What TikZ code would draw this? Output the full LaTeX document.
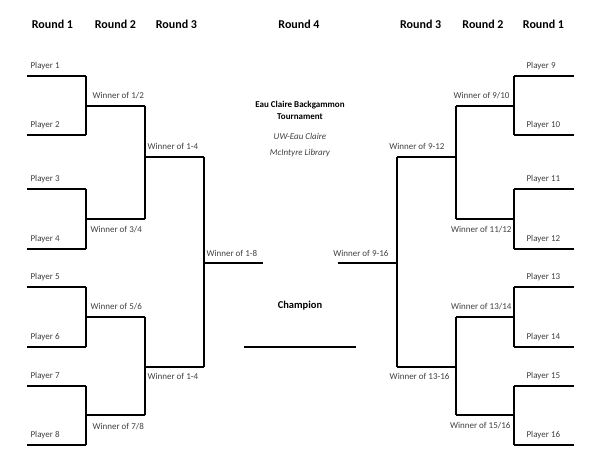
\documentclass[tikz,border=0pt]{standalone}
\usepackage{fontspec}
\setmainfont{Carlito}
\definecolor{labelgray}{RGB}{64,64,64}
\begin{document}
\begin{tikzpicture}[x=1pt,y=-1pt,line width=1.1pt,
    every node/.style={inner sep=0pt},
    hdr/.style={font=\bfseries\fontsize{12}{14}\selectfont},
    lbl/.style={font=\fontsize{9}{11}\selectfont,text=labelgray},
    ttl/.style={font=\bfseries\fontsize{9}{11}\selectfont},
    sub/.style={font=\itshape\fontsize{9}{11}\selectfont,text=labelgray}]
    \useasboundingbox (0,0) rectangle (600,463);
    % headers
    \foreach \n/\x/\r in {hl1/52.5/1,hl2/115.5/2,hl3/176.5/3,hc4/299/4,hr3/420.7/3,hr2/483/2,hr1/543.5/1}
        \node[hdr] (\n) at (\x,24) {Round \r};

    % left half
    \foreach \i/\y in {1/76,2/135,3/189,4/249,5/287,6/347,7/386,8/445} {
        \coordinate (p\i a) at (27,\y);
        \coordinate (p\i b) at (86,\y);
        \draw (p\i a) -- (p\i b);
        \node[lbl,anchor=base west] (pl\i) at ([shift={(3pt,8pt)}]p\i a) {Player \i};
    }
    \draw (p1b) -- (p2b) (p3b) -- (p4b) (p5b) -- (p6b) (p7b) -- (p8b);
    \coordinate (w12a) at (86,106);  \coordinate (w12b) at (145,106);
    \coordinate (w34a) at (86,219);  \coordinate (w34b) at (145,219);
    \coordinate (w56a) at (86,317);  \coordinate (w56b) at (145,317);
    \coordinate (w78a) at (86,415);  \coordinate (w78b) at (145,415);
    \coordinate (w14a) at (145,157); \coordinate (w14b) at (204,157);
    \coordinate (w58a) at (145,367); \coordinate (w58b) at (204,367);
    \coordinate (w18a) at (204,263); \coordinate (w18b) at (263,263);
    \draw (w12a) -- (w12b) (w34a) -- (w34b) (w56a) -- (w56b) (w78a) -- (w78b)
        (w12b) -- (w34b) (w56b) -- (w78b)
        (w14a) -- (w14b) (w58a) -- (w58b) (w14b) -- (w58b)
        (w18a) -- (w18b);
    \node[lbl,anchor=base west] (l12) at (92,98) {Winner of 1/2};
    \node[lbl,anchor=base west] (l34) at (90,232) {Winner of 3/4};
    \node[lbl,anchor=base west] (l56) at (90,309) {Winner of 5/6};
    \node[lbl,anchor=base west] (l78) at (92,429) {Winner of 7/8};
    \node[lbl,anchor=base west] (l14) at (147,149) {Winner of 1-4};
    \node[lbl,anchor=base west] (l58) at (147,379) {Winner of 1-4};
    \node[lbl,anchor=base west] (l18) at (206,256) {Winner of 1-8};

    % right half
    \foreach \i/\y in {9/76,10/135,11/189,12/249,13/287,14/347,15/386,16/445} {
        \coordinate (p\i a) at (514,\y);
        \coordinate (p\i b) at (574,\y);
        \draw (p\i a) -- (p\i b);
        \node[lbl,anchor=base west] (pl\i) at ([shift={(12pt,8pt)}]p\i a) {Player \i};
    }
    \draw (p9a) -- (p10a) (p11a) -- (p12a) (p13a) -- (p14a) (p15a) -- (p16a);
    \coordinate (w910a) at (456,106);  \coordinate (w910b) at (514,106);
    \coordinate (w1112a) at (456,219); \coordinate (w1112b) at (514,219);
    \coordinate (w1314a) at (456,317); \coordinate (w1314b) at (514,317);
    \coordinate (w1516a) at (456,415); \coordinate (w1516b) at (514,415);
    \coordinate (w912a) at (397,157);  \coordinate (w912b) at (456,157);
    \coordinate (w1316a) at (397,367); \coordinate (w1316b) at (456,367);
    \coordinate (w916a) at (338,263);  \coordinate (w916b) at (397,263);
    \draw (w910a) -- (w910b) (w1112a) -- (w1112b) (w1314a) -- (w1314b) (w1516a) -- (w1516b)
        (w910a) -- (w1112a) (w1314a) -- (w1516a)
        (w912a) -- (w912b) (w1316a) -- (w1316b) (w912a) -- (w1316a)
        (w916a) -- (w916b);
    \node[lbl,anchor=base east] (l910) at (510,98) {Winner of 9/10};
    \node[lbl,anchor=base east] (l1112) at (512,232) {Winner of 11/12};
    \node[lbl,anchor=base east] (l1314) at (512,309) {Winner of 13/14};
    \node[lbl,anchor=base east] (l1516) at (511,428) {Winner of 15/16};
    \node[lbl,anchor=base east] (l912) at (445,149) {Winner of 9-12};
    \node[lbl,anchor=base east] (l1316) at (450,379) {Winner of 13-16};
    \node[lbl,anchor=base east] (l916) at (389,256) {Winner of 9-16};

    % centre
    \node[ttl] (title1) at (300,105) {Eau Claire Backgammon};
    \node[ttl] (title2) at (300,117) {Tournament};
    \node[sub] (place1) at (300,136) {UW-Eau Claire};
    \node[sub] (place2) at (300,153) {McIntyre Library};
    \node[font=\bfseries\fontsize{10.5}{12}\selectfont] (champ) at (300,306) {Champion};
    \coordinate (ch1) at (244,347);
    \coordinate (ch2) at (356,347);
    \draw (ch1) -- (ch2);
\end{tikzpicture}
\end{document}
